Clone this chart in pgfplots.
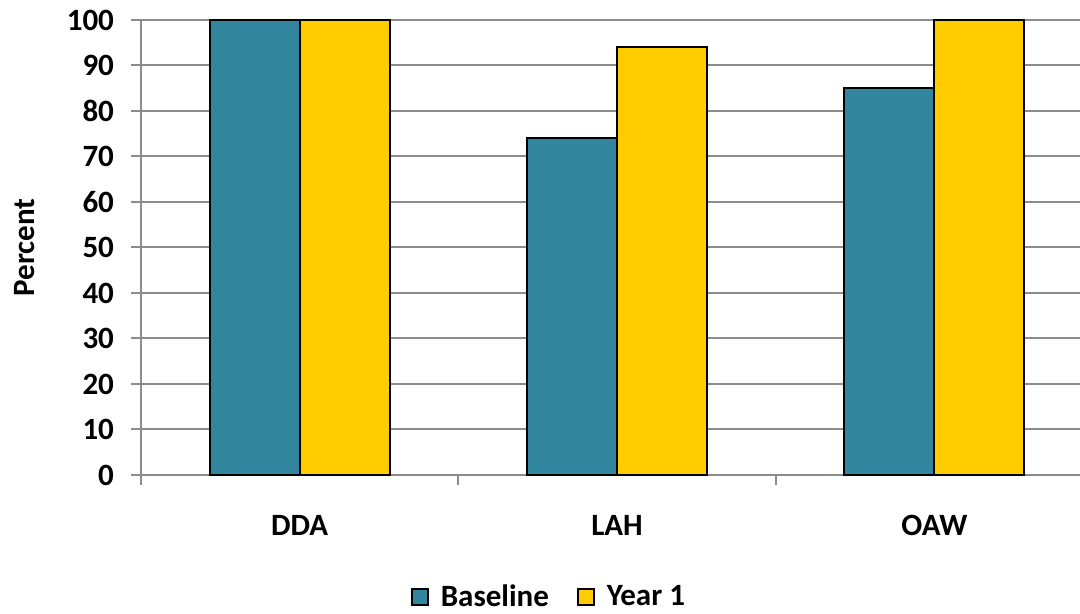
\documentclass[border=0pt]{standalone}
\usepackage{pgfplots}
\pgfplotsset{compat=1.18}
\usepackage{fontspec}
\setmainfont{Carlito}
\definecolor{teal1}{HTML}{31859C}
\definecolor{gold1}{HTML}{FFCC00}
\definecolor{gridgray}{HTML}{8C8C8C}
\begin{document}
\begin{tikzpicture}[x=1pt,y=1pt]
\path[use as bounding box] (-70.5,-69.5) rectangle (469.5,237.5);
\begin{axis}[
  at={(0,0)}, anchor=south west, scale only axis,
  width=469.5pt, height=227.5pt,
  ybar=0pt, bar width=45pt,
  xmin=-0.5, xmax=2.459, ymin=0, ymax=100,
  clip=false,
  axis x line*=bottom, axis y line*=left,
  axis line style={-, draw=gridgray, line width=1pt},
  ytick={0,10,...,100},
  ymajorgrids, grid style={draw=gridgray, line width=1pt},
  xtick={-0.5,0.5,1.5}, xticklabels={},
  extra x ticks={0,1,2}, extra x tick labels={DDA,LAH,OAW},
  extra x tick style={major tick length=0pt, grid=none,
     xticklabel style={anchor=center, yshift=-25pt}},
  tick align=outside, major tick length=5pt,
  tick style={draw=gridgray, line width=1pt},
  /pgf/number format/assume math mode=true,
  tick label style={font=\bfseries\fontsize{15.5}{18}\selectfont},
  yticklabel style={anchor=east, xshift=-5pt},
  ylabel={Percent},
  every axis y label/.style={at={(axis description cs:-0.1235,0.5)}, rotate=90, anchor=center,
     font=\bfseries\fontsize{15.5}{18}\selectfont},
  legend style={at={(0.4356,-0.268)}, anchor=center, draw=none,
     font=\bfseries\fontsize{15.5}{18}\selectfont, inner sep=0pt,
     /tikz/every even column/.append style={column sep=12pt}},
  legend columns=2,
  legend image code/.code={\draw[#1, line width=0.8pt] (0pt,-4pt) rectangle (8pt,4pt); \path (12pt,0pt);},
]
\addplot[fill=teal1, draw=black, line width=1pt] coordinates {(0,100) (1,74) (2,85)};
\addplot[fill=gold1, draw=black, line width=1pt] coordinates {(0,100) (1,94) (2,100)};
\legend{Baseline, Year 1}
\end{axis}
\end{tikzpicture}
\end{document}
